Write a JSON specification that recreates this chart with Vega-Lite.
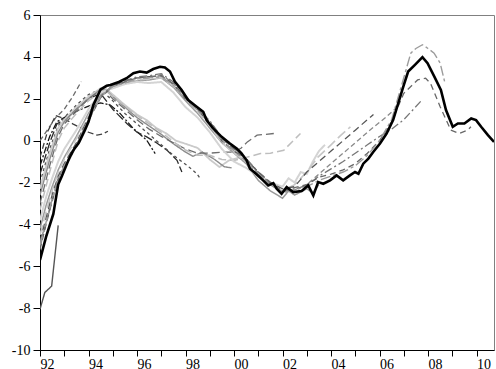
{
"$schema": "https://vega.github.io/schema/vega-lite/v6.json",
"width": 454, "height": 335,
"autosize": {"type": "none"},
"padding": {"left": 40, "top": 15, "right": 2, "bottom": 19},
"config": {"view": {"stroke": "#808080", "strokeWidth": 1},
 "axis": {"labelFont": "Liberation Serif", "labelFontSize": 14, "labelColor": "#000", "domainColor": "#000", "tickColor": "#000", "grid": false, "title": null}},
"datasets": {
"f": [
{"x":1992.0,"y":-5.7},{"x":1992.25,"y":-4.6},{"x":1992.55,"y":-3.5},{"x":1992.75,"y":-2.1},{"x":1992.9,"y":-1.7},{"x":1993.15,"y":-1.0},{"x":1993.35,"y":-0.5},{"x":1993.6,"y":-0.1},{"x":1993.85,"y":0.5},{"x":1994.0,"y":0.9},{"x":1994.2,"y":1.7},{"x":1994.5,"y":2.45},{"x":1994.75,"y":2.62},{"x":1994.9,"y":2.66},{"x":1995.25,"y":2.8},{"x":1995.57,"y":2.98},{"x":1995.85,"y":3.22},{"x":1996.12,"y":3.3},{"x":1996.4,"y":3.25},{"x":1996.67,"y":3.42},{"x":1996.95,"y":3.53},{"x":1997.15,"y":3.49},{"x":1997.36,"y":3.3},{"x":1997.56,"y":2.82},{"x":1997.84,"y":2.42},{"x":1998.11,"y":1.94},{"x":1998.46,"y":1.62},{"x":1998.73,"y":1.38},{"x":1998.87,"y":0.98},{"x":1999.14,"y":0.58},{"x":1999.49,"y":0.18},{"x":1999.83,"y":-0.14},{"x":2000.11,"y":-0.38},{"x":2000.3,"y":-0.6},{"x":2000.52,"y":-0.94},{"x":2000.66,"y":-1.34},{"x":2000.93,"y":-1.61},{"x":2001.2,"y":-1.9},{"x":2001.41,"y":-2.14},{"x":2001.62,"y":-2.03},{"x":2001.76,"y":-2.3},{"x":2001.96,"y":-2.54},{"x":2002.17,"y":-2.22},{"x":2002.44,"y":-2.46},{"x":2002.79,"y":-2.41},{"x":2003.06,"y":-2.14},{"x":2003.27,"y":-2.62},{"x":2003.47,"y":-1.98},{"x":2003.68,"y":-2.06},{"x":2003.96,"y":-1.9},{"x":2004.23,"y":-1.66},{"x":2004.5,"y":-1.9},{"x":2004.78,"y":-1.66},{"x":2004.99,"y":-1.5},{"x":2005.13,"y":-1.58},{"x":2005.33,"y":-1.1},{"x":2005.54,"y":-0.86},{"x":2005.74,"y":-0.54},{"x":2006.02,"y":-0.14},{"x":2006.29,"y":0.34},{"x":2006.56,"y":0.98},{"x":2006.77,"y":1.78},{"x":2006.98,"y":2.58},{"x":2007.18,"y":3.3},{"x":2007.46,"y":3.62},{"x":2007.77,"y":3.99},{"x":2007.98,"y":3.7},{"x":2008.26,"y":3.06},{"x":2008.53,"y":2.42},{"x":2008.74,"y":1.46},{"x":2009.02,"y":0.66},{"x":2009.23,"y":0.82},{"x":2009.5,"y":0.82},{"x":2009.78,"y":1.06},{"x":2009.98,"y":0.98},{"x":2010.19,"y":0.66},{"x":2010.47,"y":0.26},{"x":2010.72,"y":-0.06}
],
"v": [
{"s":"V1","x":1992.0,"y":-8.05},{"s":"V1","x":1992.2,"y":-7.25},{"s":"V1","x":1992.48,"y":-6.95},{"s":"V1","x":1992.75,"y":-4.05},
{"s":"V2","x":1992.0,"y":0.0},{"s":"V2","x":1992.3,"y":0.5},{"s":"V2","x":1992.65,"y":1.1},{"s":"V2","x":1993.0,"y":1.5},{"s":"V2","x":1993.35,"y":2.1},{"s":"V2","x":1993.7,"y":2.82},
{"s":"V3","x":1992.0,"y":-0.8},{"s":"V3","x":1992.3,"y":0.4},{"s":"V3","x":1992.65,"y":1.2},{"s":"V3","x":1993.0,"y":1.05},{"s":"V3","x":1993.35,"y":0.8},{"s":"V3","x":1993.7,"y":0.6},{"s":"V3","x":1994.0,"y":0.4},{"s":"V3","x":1994.35,"y":0.26},{"s":"V3","x":1994.6,"y":0.32},{"s":"V3","x":1994.8,"y":0.45},
{"s":"V4","x":1992.0,"y":-1.2},{"s":"V4","x":1992.4,"y":0.2},{"s":"V4","x":1992.7,"y":0.9},{"s":"V4","x":1993.0,"y":1.1},{"s":"V4","x":1993.5,"y":1.4},{"s":"V4","x":1994.0,"y":1.65},{"s":"V4","x":1994.5,"y":1.8},{"s":"V4","x":1994.9,"y":1.7},{"s":"V4","x":1995.3,"y":1.3},{"s":"V4","x":1995.85,"y":0.58},{"s":"V4","x":1996.4,"y":0.02},{"s":"V4","x":1996.75,"y":-0.62},
{"s":"V5","x":1992.0,"y":-1.6},{"s":"V5","x":1992.4,"y":-0.1},{"s":"V5","x":1992.7,"y":0.8},{"s":"V5","x":1993.0,"y":1.0},{"s":"V5","x":1993.5,"y":1.5},{"s":"V5","x":1994.0,"y":2.0},{"s":"V5","x":1994.5,"y":2.25},{"s":"V5","x":1995.0,"y":1.5},{"s":"V5","x":1995.58,"y":0.82},{"s":"V5","x":1996.0,"y":0.4},{"s":"V5","x":1996.4,"y":0.18},{"s":"V5","x":1996.8,"y":-0.1},{"s":"V5","x":1997.24,"y":-0.46},{"s":"V5","x":1997.65,"y":-0.94},{"s":"V5","x":1997.85,"y":-1.5},
{"s":"V6","x":1992.0,"y":-2.0},{"s":"V6","x":1992.4,"y":-0.4},{"s":"V6","x":1992.75,"y":0.7},{"s":"V6","x":1993.0,"y":1.1},{"s":"V6","x":1993.5,"y":1.7},{"s":"V6","x":1994.0,"y":2.2},{"s":"V6","x":1994.5,"y":2.45},{"s":"V6","x":1995.0,"y":1.9},{"s":"V6","x":1995.5,"y":1.3},{"s":"V6","x":1996.0,"y":0.8},{"s":"V6","x":1996.5,"y":0.3},{"s":"V6","x":1997.0,"y":-0.2},{"s":"V6","x":1997.5,"y":-0.7},{"s":"V6","x":1998.06,"y":-1.18},{"s":"V6","x":1998.47,"y":-1.58},{"s":"V6","x":1998.6,"y":-1.8},
{"s":"V6b","x":1992.0,"y":-2.3},{"s":"V6b","x":1992.4,"y":-0.6},{"s":"V6b","x":1992.75,"y":0.6},{"s":"V6b","x":1993.0,"y":1.0},{"s":"V6b","x":1993.5,"y":1.6},{"s":"V6b","x":1994.0,"y":2.1},{"s":"V6b","x":1994.5,"y":2.5},{"s":"V6b","x":1994.75,"y":2.45},{"s":"V6b","x":1995.0,"y":2.2},{"s":"V6b","x":1995.5,"y":1.7},{"s":"V6b","x":1996.0,"y":1.25},{"s":"V6b","x":1996.4,"y":0.98},{"s":"V6b","x":1996.8,"y":0.6},{"s":"V6b","x":1997.2,"y":0.35},{"s":"V6b","x":1997.6,"y":0.0},{"s":"V6b","x":1998.0,"y":-0.15},{"s":"V6b","x":1998.5,"y":-0.35},{"s":"V6b","x":1999.0,"y":-0.9},{"s":"V6b","x":1999.4,"y":-1.26},{"s":"V6b","x":1999.8,"y":-0.94},{"s":"V6b","x":2000.3,"y":-0.78},
{"s":"V6c","x":1992.0,"y":-2.6},{"s":"V6c","x":1992.4,"y":-0.9},{"s":"V6c","x":1992.75,"y":0.4},{"s":"V6c","x":1993.0,"y":0.9},{"s":"V6c","x":1993.5,"y":1.5},{"s":"V6c","x":1994.0,"y":2.0},{"s":"V6c","x":1994.5,"y":2.45},{"s":"V6c","x":1994.75,"y":2.4},{"s":"V6c","x":1995.0,"y":2.1},{"s":"V6c","x":1995.5,"y":1.6},{"s":"V6c","x":1996.0,"y":1.1},{"s":"V6c","x":1996.5,"y":0.7},{"s":"V6c","x":1997.0,"y":0.3},{"s":"V6c","x":1997.5,"y":-0.15},{"s":"V6c","x":1998.0,"y":-0.55},{"s":"V6c","x":1998.3,"y":-0.75},{"s":"V6c","x":1998.7,"y":-0.55},{"s":"V6c","x":1999.2,"y":-0.9},{"s":"V6c","x":1999.6,"y":-1.25},{"s":"V6c","x":1999.9,"y":-1.3},
{"s":"V7","x":1992.0,"y":-3.0},{"s":"V7","x":1992.4,"y":-1.2},{"s":"V7","x":1992.75,"y":0.2},{"s":"V7","x":1993.0,"y":0.8},{"s":"V7","x":1993.5,"y":1.4},{"s":"V7","x":1994.0,"y":2.0},{"s":"V7","x":1994.5,"y":2.4},{"s":"V7","x":1994.75,"y":2.3},{"s":"V7","x":1995.0,"y":2.0},{"s":"V7","x":1995.5,"y":1.5},{"s":"V7","x":1996.0,"y":1.0},{"s":"V7","x":1996.5,"y":0.55},{"s":"V7","x":1997.0,"y":0.2},{"s":"V7","x":1997.5,"y":-0.1},{"s":"V7","x":1998.0,"y":-0.4},{"s":"V7","x":1998.5,"y":-0.6},{"s":"V7","x":1999.0,"y":-0.6},{"s":"V7","x":1999.5,"y":-0.55},{"s":"V7","x":2000.0,"y":-0.55},{"s":"V7","x":2000.3,"y":-0.35},{"s":"V7","x":2000.55,"y":-0.06},{"s":"V7","x":2000.95,"y":0.26},{"s":"V7","x":2001.3,"y":0.3},{"s":"V7","x":2001.64,"y":0.34},
{"s":"V8","x":1992.0,"y":-3.3},{"s":"V8","x":1992.4,"y":-1.5},{"s":"V8","x":1992.75,"y":0.0},{"s":"V8","x":1993.0,"y":0.6},{"s":"V8","x":1993.5,"y":1.3},{"s":"V8","x":1994.0,"y":1.9},{"s":"V8","x":1994.5,"y":2.35},{"s":"V8","x":1994.75,"y":2.35},{"s":"V8","x":1995.0,"y":2.1},{"s":"V8","x":1995.5,"y":1.65},{"s":"V8","x":1996.0,"y":1.2},{"s":"V8","x":1996.5,"y":0.8},{"s":"V8","x":1997.0,"y":0.4},{"s":"V8","x":1997.5,"y":-0.05},{"s":"V8","x":1998.0,"y":-0.45},{"s":"V8","x":1998.5,"y":-0.7},{"s":"V8","x":1999.0,"y":-0.7},{"s":"V8","x":1999.5,"y":-0.9},{"s":"V8","x":2000.0,"y":-0.95},{"s":"V8","x":2000.5,"y":-0.8},{"s":"V8","x":2001.09,"y":-0.62},{"s":"V8","x":2001.5,"y":-0.6},{"s":"V8","x":2002.05,"y":-0.46},{"s":"V8","x":2002.4,"y":-0.05},{"s":"V8","x":2002.74,"y":0.34},
{"s":"G1","x":1992.0,"y":-4.2},{"s":"G1","x":1992.25,"y":-3.1},{"s":"G1","x":1992.5,"y":-2.2},{"s":"G1","x":1992.75,"y":-1.4},{"s":"G1","x":1993.0,"y":-0.8},{"s":"G1","x":1993.5,"y":0.2},{"s":"G1","x":1994.0,"y":1.3},{"s":"G1","x":1994.5,"y":2.2},{"s":"G1","x":1995.0,"y":2.55},{"s":"G1","x":1995.5,"y":2.75},{"s":"G1","x":1996.0,"y":2.85},{"s":"G1","x":1996.5,"y":2.9},{"s":"G1","x":1997.0,"y":3.0},{"s":"G1","x":1997.5,"y":2.55},{"s":"G1","x":1998.0,"y":1.9},{"s":"G1","x":1998.5,"y":1.3},{"s":"G1","x":1999.0,"y":0.6},{"s":"G1","x":1999.5,"y":-0.1},{"s":"G1","x":2000.0,"y":-0.6},{"s":"G1","x":2000.5,"y":-1.1},{"s":"G1","x":2001.0,"y":-1.9},{"s":"G1","x":2001.5,"y":-2.4},{"s":"G1","x":2002.0,"y":-2.75},{"s":"G1","x":2002.25,"y":-2.4},{"s":"G1","x":2002.5,"y":-2.6},{"s":"G1","x":2002.75,"y":-2.45},{"s":"G1","x":2003.0,"y":-2.3},{"s":"G1","x":2003.25,"y":-2.5},{"s":"G1","x":2003.5,"y":-2.1},
{"s":"G2","x":1992.0,"y":-3.8},{"s":"G2","x":1992.25,"y":-2.7},{"s":"G2","x":1992.5,"y":-1.8},{"s":"G2","x":1992.75,"y":-1.0},{"s":"G2","x":1993.0,"y":-0.4},{"s":"G2","x":1993.5,"y":0.5},{"s":"G2","x":1994.0,"y":1.5},{"s":"G2","x":1994.5,"y":2.3},{"s":"G2","x":1995.0,"y":2.5},{"s":"G2","x":1995.5,"y":2.7},{"s":"G2","x":1996.0,"y":2.8},{"s":"G2","x":1996.5,"y":2.75},{"s":"G2","x":1997.0,"y":2.8},{"s":"G2","x":1997.5,"y":2.3},{"s":"G2","x":1998.0,"y":1.6},{"s":"G2","x":1998.5,"y":1.1},{"s":"G2","x":1999.0,"y":0.4},{"s":"G2","x":1999.5,"y":-0.4},{"s":"G2","x":2000.0,"y":-1.0},{"s":"G2","x":2000.5,"y":-1.3},{"s":"G2","x":2001.0,"y":-1.7},{"s":"G2","x":2001.5,"y":-2.0},{"s":"G2","x":2002.0,"y":-2.2},{"s":"G2","x":2002.25,"y":-1.8},{"s":"G2","x":2002.5,"y":-2.0},{"s":"G2","x":2002.75,"y":-1.5},{"s":"G2","x":2003.0,"y":-1.6},{"s":"G2","x":2003.25,"y":-1.0},{"s":"G2","x":2003.5,"y":-0.5},{"s":"G2","x":2003.75,"y":-0.2},
{"s":"V9","x":1992.0,"y":-4.5},{"s":"V9","x":1992.25,"y":-3.4},{"s":"V9","x":1992.5,"y":-2.4},{"s":"V9","x":1992.75,"y":-1.5},{"s":"V9","x":1993.0,"y":-0.9},{"s":"V9","x":1993.5,"y":0.1},{"s":"V9","x":1994.0,"y":1.2},{"s":"V9","x":1994.5,"y":2.1},{"s":"V9","x":1995.0,"y":2.6},{"s":"V9","x":1995.5,"y":2.8},{"s":"V9","x":1996.0,"y":2.9},{"s":"V9","x":1996.5,"y":2.95},{"s":"V9","x":1997.0,"y":3.0},{"s":"V9","x":1997.5,"y":2.6},{"s":"V9","x":1998.0,"y":2.0},{"s":"V9","x":1998.5,"y":1.4},{"s":"V9","x":1999.0,"y":0.7},{"s":"V9","x":1999.5,"y":-0.1},{"s":"V9","x":2000.0,"y":-0.6},{"s":"V9","x":2000.5,"y":-1.0},{"s":"V9","x":2001.0,"y":-1.6},{"s":"V9","x":2001.5,"y":-2.1},{"s":"V9","x":2002.0,"y":-2.4},{"s":"V9","x":2002.5,"y":-2.1},{"s":"V9","x":2003.0,"y":-1.5},{"s":"V9","x":2003.45,"y":-0.8},{"s":"V9","x":2004.0,"y":-0.2},{"s":"V9","x":2004.4,"y":0.25},{"s":"V9","x":2004.8,"y":0.66},
{"s":"V10","x":1992.0,"y":-4.8},{"s":"V10","x":1992.25,"y":-3.7},{"s":"V10","x":1992.5,"y":-2.6},{"s":"V10","x":1992.75,"y":-1.7},{"s":"V10","x":1993.0,"y":-1.1},{"s":"V10","x":1993.5,"y":-0.1},{"s":"V10","x":1994.0,"y":1.1},{"s":"V10","x":1994.5,"y":2.1},{"s":"V10","x":1995.0,"y":2.6},{"s":"V10","x":1995.5,"y":2.85},{"s":"V10","x":1996.0,"y":3.0},{"s":"V10","x":1996.5,"y":3.05},{"s":"V10","x":1997.0,"y":3.1},{"s":"V10","x":1997.5,"y":2.7},{"s":"V10","x":1998.0,"y":2.0},{"s":"V10","x":1998.5,"y":1.5},{"s":"V10","x":1999.0,"y":0.8},{"s":"V10","x":1999.5,"y":0.0},{"s":"V10","x":2000.0,"y":-0.5},{"s":"V10","x":2000.5,"y":-0.9},{"s":"V10","x":2001.0,"y":-1.5},{"s":"V10","x":2001.5,"y":-2.0},{"s":"V10","x":2002.0,"y":-2.3},{"s":"V10","x":2002.5,"y":-2.2},{"s":"V10","x":2003.0,"y":-1.5},{"s":"V10","x":2003.5,"y":-1.0},{"s":"V10","x":2004.0,"y":-0.5},{"s":"V10","x":2004.5,"y":0.0},{"s":"V10","x":2005.0,"y":0.5},{"s":"V10","x":2005.5,"y":1.0},{"s":"V10","x":2005.75,"y":1.25},
{"s":"V11","x":1992.0,"y":-4.9},{"s":"V11","x":1992.25,"y":-3.9},{"s":"V11","x":1992.5,"y":-2.8},{"s":"V11","x":1992.75,"y":-1.8},{"s":"V11","x":1993.0,"y":-1.2},{"s":"V11","x":1993.5,"y":-0.2},{"s":"V11","x":1994.0,"y":1.0},{"s":"V11","x":1994.5,"y":2.1},{"s":"V11","x":1995.0,"y":2.65},{"s":"V11","x":1995.5,"y":2.8},{"s":"V11","x":1996.0,"y":3.0},{"s":"V11","x":1996.5,"y":3.0},{"s":"V11","x":1997.0,"y":3.15},{"s":"V11","x":1997.5,"y":2.75},{"s":"V11","x":1998.0,"y":2.05},{"s":"V11","x":1998.5,"y":1.55},{"s":"V11","x":1999.0,"y":0.9},{"s":"V11","x":1999.5,"y":0.1},{"s":"V11","x":2000.0,"y":-0.4},{"s":"V11","x":2000.5,"y":-0.9},{"s":"V11","x":2001.0,"y":-1.55},{"s":"V11","x":2001.5,"y":-2.1},{"s":"V11","x":2002.0,"y":-2.45},{"s":"V11","x":2002.5,"y":-2.35},{"s":"V11","x":2003.0,"y":-2.1},{"s":"V11","x":2003.5,"y":-1.6},{"s":"V11","x":2004.0,"y":-1.1},{"s":"V11","x":2004.5,"y":-0.6},{"s":"V11","x":2005.0,"y":-0.1},{"s":"V11","x":2005.5,"y":0.4},{"s":"V11","x":2005.77,"y":0.66},{"s":"V11","x":2006.25,"y":1.1},{"s":"V11","x":2006.74,"y":1.62},
{"s":"V12","x":1992.0,"y":-5.1},{"s":"V12","x":1992.25,"y":-3.95},{"s":"V12","x":1992.5,"y":-2.85},{"s":"V12","x":1992.75,"y":-1.85},{"s":"V12","x":1993.0,"y":-1.25},{"s":"V12","x":1993.5,"y":-0.2},{"s":"V12","x":1994.0,"y":1.0},{"s":"V12","x":1994.5,"y":2.1},{"s":"V12","x":1995.0,"y":2.65},{"s":"V12","x":1995.5,"y":2.85},{"s":"V12","x":1996.0,"y":3.05},{"s":"V12","x":1996.5,"y":3.1},{"s":"V12","x":1997.0,"y":3.2},{"s":"V12","x":1997.5,"y":2.8},{"s":"V12","x":1998.0,"y":2.1},{"s":"V12","x":1998.5,"y":1.55},{"s":"V12","x":1999.0,"y":0.95},{"s":"V12","x":1999.5,"y":0.15},{"s":"V12","x":2000.0,"y":-0.35},{"s":"V12","x":2000.5,"y":-0.85},{"s":"V12","x":2001.0,"y":-1.5},{"s":"V12","x":2001.5,"y":-2.05},{"s":"V12","x":2002.0,"y":-2.45},{"s":"V12","x":2002.5,"y":-2.3},{"s":"V12","x":2003.0,"y":-2.15},{"s":"V12","x":2003.5,"y":-1.7},{"s":"V12","x":2004.0,"y":-1.35},{"s":"V12","x":2004.5,"y":-1.0},{"s":"V12","x":2005.0,"y":-0.6},{"s":"V12","x":2005.5,"y":-0.2},{"s":"V12","x":2006.0,"y":0.2},{"s":"V12","x":2006.5,"y":0.55},{"s":"V12","x":2007.0,"y":1.0},{"s":"V12","x":2007.4,"y":1.5},{"s":"V12","x":2007.75,"y":1.94},
{"s":"V13","x":1992.0,"y":-5.2},{"s":"V13","x":1992.25,"y":-4.0},{"s":"V13","x":1992.5,"y":-2.9},{"s":"V13","x":1992.75,"y":-1.9},{"s":"V13","x":1993.0,"y":-1.3},{"s":"V13","x":1993.5,"y":-0.3},{"s":"V13","x":1994.0,"y":0.95},{"s":"V13","x":1994.5,"y":2.05},{"s":"V13","x":1995.0,"y":2.6},{"s":"V13","x":1995.5,"y":2.8},{"s":"V13","x":1996.0,"y":3.0},{"s":"V13","x":1996.5,"y":3.05},{"s":"V13","x":1997.0,"y":3.1},{"s":"V13","x":1997.5,"y":2.7},{"s":"V13","x":1998.0,"y":2.0},{"s":"V13","x":1998.5,"y":1.5},{"s":"V13","x":1999.0,"y":0.9},{"s":"V13","x":1999.5,"y":0.1},{"s":"V13","x":2000.0,"y":-0.4},{"s":"V13","x":2000.5,"y":-0.9},{"s":"V13","x":2001.0,"y":-1.5},{"s":"V13","x":2001.5,"y":-2.0},{"s":"V13","x":2002.0,"y":-2.4},{"s":"V13","x":2002.5,"y":-2.25},{"s":"V13","x":2003.0,"y":-2.1},{"s":"V13","x":2003.5,"y":-1.75},{"s":"V13","x":2004.0,"y":-1.6},{"s":"V13","x":2004.5,"y":-1.4},{"s":"V13","x":2005.0,"y":-1.1},{"s":"V13","x":2005.5,"y":-0.6},{"s":"V13","x":2006.0,"y":0.0},{"s":"V13","x":2006.5,"y":0.9},{"s":"V13","x":2007.0,"y":2.26},{"s":"V13","x":2007.3,"y":2.6},{"s":"V13","x":2007.57,"y":2.9},{"s":"V13","x":2007.9,"y":2.98},{"s":"V13","x":2008.1,"y":2.74},{"s":"V13","x":2008.5,"y":1.62},{"s":"V13","x":2008.94,"y":0.5},{"s":"V13","x":2009.29,"y":0.34},{"s":"V13","x":2009.63,"y":0.5},{"s":"V13","x":2009.77,"y":0.66},
{"s":"V14","x":1992.0,"y":-5.0},{"s":"V14","x":1992.25,"y":-3.9},{"s":"V14","x":1992.5,"y":-2.8},{"s":"V14","x":1992.75,"y":-1.85},{"s":"V14","x":1993.0,"y":-1.2},{"s":"V14","x":1993.5,"y":-0.25},{"s":"V14","x":1994.0,"y":1.0},{"s":"V14","x":1994.5,"y":2.1},{"s":"V14","x":1995.0,"y":2.6},{"s":"V14","x":1995.5,"y":2.75},{"s":"V14","x":1996.0,"y":2.95},{"s":"V14","x":1996.5,"y":3.0},{"s":"V14","x":1997.0,"y":3.05},{"s":"V14","x":1997.5,"y":2.65},{"s":"V14","x":1998.0,"y":1.95},{"s":"V14","x":1998.5,"y":1.45},{"s":"V14","x":1999.0,"y":0.8},{"s":"V14","x":1999.5,"y":0.0},{"s":"V14","x":2000.0,"y":-0.5},{"s":"V14","x":2000.5,"y":-1.0},{"s":"V14","x":2001.0,"y":-1.6},{"s":"V14","x":2001.5,"y":-2.1},{"s":"V14","x":2002.0,"y":-2.5},{"s":"V14","x":2002.5,"y":-2.35},{"s":"V14","x":2003.0,"y":-2.2},{"s":"V14","x":2003.5,"y":-1.9},{"s":"V14","x":2004.0,"y":-1.7},{"s":"V14","x":2004.5,"y":-1.5},{"s":"V14","x":2005.0,"y":-1.2},{"s":"V14","x":2005.5,"y":-0.7},{"s":"V14","x":2006.0,"y":0.0},{"s":"V14","x":2006.5,"y":1.0},{"s":"V14","x":2006.75,"y":2.0},{"s":"V14","x":2007.0,"y":3.0},{"s":"V14","x":2007.29,"y":4.18},{"s":"V14","x":2007.5,"y":4.4},{"s":"V14","x":2007.77,"y":4.58},{"s":"V14","x":2008.0,"y":4.4},{"s":"V14","x":2008.25,"y":4.18},{"s":"V14","x":2008.5,"y":3.7},{"s":"V14","x":2008.7,"y":2.74}
]
},
"encoding": {
 "x": {"field": "x", "type": "quantitative", "scale": {"domain": [1992, 2010.72], "nice": false, "zero": false},
   "axis": {"values": [1992,1993,1994,1995,1996,1997,1998,1999,2000,2001,2002,2003,2004,2005,2006,2007,2008,2009,2010], "labelExpr": "datum.value % 2 == 0 ? (((datum.value % 100) < 10 ? '0' : '') + (datum.value % 100)) : ''", "labelAlign": "left", "labelPadding": 1, "tickSize": 6, "labelOverlap": false, "labelFlush": false}},
 "y": {"field": "y", "type": "quantitative", "scale": {"domain": [-10, 6], "nice": false, "zero": false},
   "axis": {"values": [-10,-8,-6,-4,-2,0,2,4,6], "labelExpr": "'' + datum.value", "tickSize": 7, "labelPadding": 3}}
},
"layer": [
 {"data": {"name": "v"},
  "mark": {"type": "line", "strokeCap": "butt", "clip": true},
  "encoding": {
   "detail": {"field": "s", "type": "nominal"},
   "color": {"field": "s", "type": "nominal", "legend": null,
     "scale": {"domain": ["V1","V2","V3","V4","V5","V6","V6b","V6c","V7","V8","G1","G2","V9","V10","V11","V12","V13","V14"],
       "range": ["#555555","#6a6a6a","#404040","#151515","#2a2a2a","#505050","#cacaca","#8c8c8c","#6e6e6e","#bebebe","#9a9a9a","#d4d4d4","#c6c6c6","#555555","#8a8a8a","#777777","#686868","#9c9c9c"]}},
   "strokeDash": {"field": "s", "type": "nominal", "legend": null,
     "scale": {"domain": ["V1","V2","V3","V4","V5","V6","V6b","V6c","V7","V8","G1","G2","V9","V10","V11","V12","V13","V14"],
       "range": [[1,0],[5,3],[6,3],[7,2,2,2],[9,3],[3,3],[1,0],[1,0],[8,4],[8,4],[1,0],[1,0],[10,4],[7,4],[5,3],[8,3,2,3],[6,4],[10,3,3,3]]}},
   "strokeWidth": {"field": "s", "type": "nominal", "legend": null,
     "scale": {"type": "ordinal", "domain": ["V1","V2","V3","V4","V5","V6","V6b","V6c","V7","V8","G1","G2","V9","V10","V11","V12","V13","V14"],
       "range": [1.4,1.3,1.3,1.3,1.3,1.3,1.8,1.4,1.3,1.5,1.5,2.0,1.6,1.3,1.3,1.3,1.3,1.4]}}
  }},
 {"data": {"name": "f"},
  "mark": {"type": "line", "color": "#000000", "strokeWidth": 2.6, "clip": true},
  "encoding": {}}
]
}
